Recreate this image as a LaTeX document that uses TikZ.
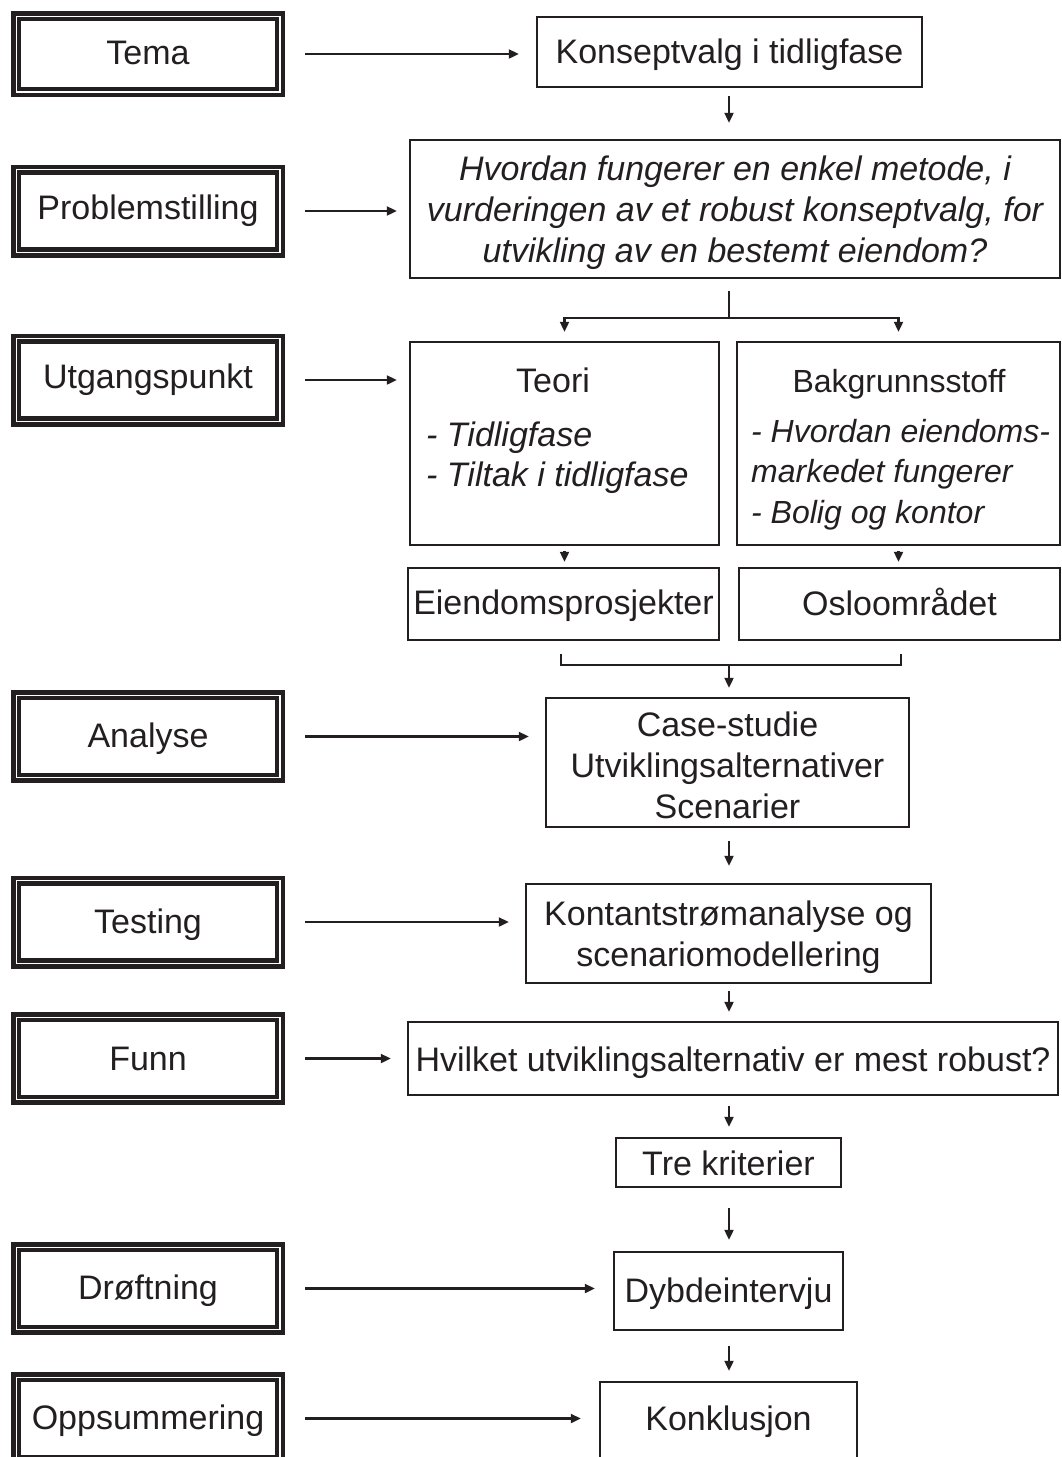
\documentclass[tikz,border=0pt]{standalone}
\usepackage{fontspec}
\setmainfont{Liberation Sans}
\usetikzlibrary{arrows.meta}
\definecolor{ink}{HTML}{231F20}
\newcommand\shiftdn[2]{\raisebox{-#1}[\height][\depth]{#2}}
\newcommand\stacklines[1]{\begin{tabular}{@{}c@{}}#1\end{tabular}}
\begin{document}
\begin{tikzpicture}[x=1pt,y=-1pt,
  every node/.style={font=\fontsize{34}{41}\selectfont, text=ink, inner sep=0pt},
  rbox/.style={draw=ink, line width=2.4pt, align=center},
  dbox/.style={draw=ink, line width=4.6pt, double=white, double distance=1.2pt,
               minimum width=263.8pt, minimum height=82.6pt},
  conn/.style={draw=ink, line width=2.1pt, -{Triangle[length=10pt,width=9pt]}},
  plainline/.style={draw=ink, line width=2.1pt},
  smalltext/.style={font=\fontsize{32}{41}\selectfont},
]
\clip (0,0) rectangle (1062,1457);
\fill[white] (0,0) rectangle (1062,1457);

% left column
\node[dbox, minimum height=75.8pt] (tema) at (148,54) {\shiftdn{-1.5pt}{Tema}};
\node[dbox] (prob) at (148,211) {Problemstilling};
\node[dbox] (utg) at (148,380) {Utgangspunkt};
\node[dbox] (ana) at (148,736.5) {\shiftdn{2pt}{Analyse}};
\node[dbox] (test) at (148,922) {\shiftdn{3pt}{Testing}};
\node[dbox] (funn) at (148,1058.5) {Funn};
\node[dbox] (drof) at (148,1288.5) {\shiftdn{2pt}{Drøftning}};
\node[dbox] (opps) at (148,1418.5) {\shiftdn{2pt}{Oppsummering}};

% right column
\node[rbox, minimum width=385pt, minimum height=70pt] (konsept) at (729.5,52) {\shiftdn{3pt}{Konseptvalg i tidligfase}};
\node[rbox, minimum width=650pt, minimum height=138pt, font=\fontsize{34}{41}\selectfont\itshape] (question) at (735,209)
  {\shiftdn{4pt}{\stacklines{Hvordan fungerer en enkel metode, i\\vurderingen av et robust konseptvalg, for\\utvikling av en bestemt eiendom?}}};
\node[rbox, minimum width=309pt, minimum height=203pt] (teori) at (564.5,443.5) {};
\node[rbox, minimum width=323pt, minimum height=203pt] (bakgr) at (898.5,443.5) {};
\node[anchor=base] (teoriT) at (553,392) {Teori};
\node[anchor=base west, font=\fontsize{34}{41}\selectfont\itshape] (teori1) at (426,446) {- Tidligfase};
\node[anchor=base west, font=\fontsize{34}{41}\selectfont\itshape] (teori2) at (426,486) {- Tiltak i tidligfase};
\node[anchor=base, smalltext] (bakgrT) at (899,392) {Bakgrunnsstoff};
\node[anchor=base west, font=\fontsize{32}{41}\selectfont\itshape] (bak1) at (751,442) {- Hvordan eiendoms-};
\node[anchor=base west, font=\fontsize{32}{41}\selectfont\itshape] (bak2) at (751,482) {markedet fungerer};
\node[anchor=base west, font=\fontsize{32}{41}\selectfont\itshape] (bak3) at (751,523) {- Bolig og kontor};
\node[rbox, minimum width=311pt, minimum height=72pt] (eiend) at (563.5,604) {\shiftdn{2pt}{Eiendomsprosjekter}};
\node[rbox, minimum width=321pt, minimum height=72pt] (oslo) at (899.5,604) {\shiftdn{-2pt}{Osloområdet}};
\node[rbox, minimum width=363pt, minimum height=129pt] (case) at (727.5,762.5)
  {\shiftdn{7pt}{\stacklines{Case-studie\\Utviklingsalternativer\\Scenarier}}};
\node[rbox, minimum width=405pt, minimum height=99pt] (kont) at (728.5,933.5)
  {\shiftdn{4pt}{\stacklines{Kontantstrømanalyse og\\scenariomodellering}}};
\node[rbox, minimum width=650pt, minimum height=73pt] (hvilket) at (733,1058.5) {\shiftdn{4pt}{Hvilket utviklingsalternativ er mest robust?}};
\node[rbox, minimum width=225pt, minimum height=49pt] (tre) at (728.5,1162.5) {\shiftdn{1pt}{Tre kriterier}};
\node[rbox, minimum width=229pt, minimum height=78pt] (dyb) at (728.5,1291) {\shiftdn{3pt}{Dybdeintervju}};
\node[rbox, minimum width=257pt, minimum height=83pt] (konk) at (728.5,1423.5) {\shiftdn{-2pt}{Konklusjon}};

% horizontal arrows
\draw[conn, shorten <=23pt, shorten >=17pt] (tema.east) -- (tema.east -| konsept.west);
\draw[conn, shorten <=23pt, shorten >=12pt] (prob.east) -- (prob.east -| question.west);
\draw[conn, shorten <=23pt, shorten >=12pt] (utg.east) -- (utg.east -| teori.west);
\draw[conn, shorten <=23pt, shorten >=16pt] (ana.east) -- (ana.east -| case.west);
\draw[conn, shorten <=23pt, shorten >=16pt] (test.east) -- (test.east -| kont.west);
\draw[conn, shorten <=23pt, shorten >=16pt] (funn.east) -- (funn.east -| hvilket.west);
\draw[conn, shorten <=23pt, shorten >=18pt] (drof.east) -- (drof.east -| dyb.west);
\draw[conn, shorten <=23pt, shorten >=18pt] (opps.east) -- (opps.east -| konk.west);

% vertical flow
\coordinate (axis) at (729,0);
\draw[conn, shorten <=8pt, shorten >=16pt] (konsept.south -| axis) -- (question.north -| axis);
\coordinate (split) at (729,318);
\draw[plainline, shorten <=12pt] (question.south -| split) -- (split);
\draw[conn, shorten >=9pt] (split) -| (teori.north);
\draw[conn, shorten >=9pt] (split) -| (bakgr.north);
\draw[conn, shorten <=5pt, shorten >=5pt] (teori.south) -- (teori.south |- eiend.north);
\draw[conn, shorten <=5pt, shorten >=5pt] (bakgr.south) -- (bakgr.south |- oslo.north);
\coordinate (mL) at (561,654);
\coordinate (mR) at (901,654);
\coordinate (mC) at (729,665);
\draw[plainline] (mL) -- (mL |- mC) -- (mR |- mC) -- (mR);
\draw[conn, shorten >=9pt] (mC) -- (mC |- case.north);
\draw[conn, shorten <=13pt, shorten >=17pt] (case.south -| axis) -- (kont.north -| axis);
\draw[conn, shorten <=7pt, shorten >=9pt] (kont.south -| axis) -- (hvilket.north -| axis);
\draw[conn, shorten <=10pt, shorten >=10pt] (hvilket.south -| axis) -- (tre.north -| axis);
\draw[conn, shorten <=20pt, shorten >=11pt] (tre.south -| axis) -- (dyb.north -| axis);
\draw[conn, shorten <=15pt, shorten >=10pt] (dyb.south -| axis) -- (konk.north -| axis);
\end{tikzpicture}
\end{document}
